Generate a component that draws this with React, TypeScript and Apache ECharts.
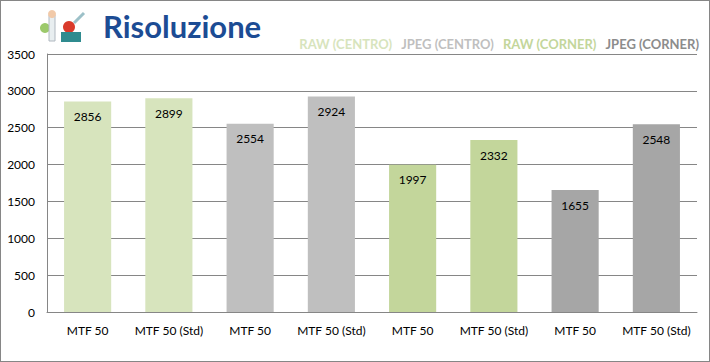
import React, { useEffect, useRef } from "react";
import * as echarts from "echarts";

const categories = ["MTF 50", "MTF 50 (Std)", "MTF 50", "MTF 50 (Std)", "MTF 50", "MTF 50 (Std)", "MTF 50", "MTF 50 (Std)"];
const seriesNames = ["RAW (CENTRO)", "JPEG (CENTRO)", "RAW (CORNER)", "JPEG (CORNER)"];
const seriesColors = ["#d7e4bd", "#bfbfbf", "#c3d69b", "#a6a6a6"];
const legendColors = ["#d7e4bd", "#bfbfbf", "#c3d69b", "#8c8c8c"];
const rawCentro = [2856, 2899, null, null, null, null, null, null];
const jpegCentro = [null, null, 2554, 2924, null, null, null, null];
const rawCorner = [null, null, null, null, 1997, 2332, null, null];
const jpegCorner = [null, null, null, null, null, null, 1655, 2548];
const seriesValues = [rawCentro, jpegCentro, rawCorner, jpegCorner];

const FONT = "Lato, 'Open Sans', sans-serif";

export default function App() {
  const ref = useRef<HTMLDivElement>(null);
  useEffect(() => {
    if (!ref.current) return;
    const chart = echarts.init(ref.current, undefined, { renderer: "svg" });
    chart.setOption({
      animation: false,
      backgroundColor: "#ffffff",
      textStyle: { fontFamily: FONT },
      title: {
        text: "Risoluzione",
        left: 97,
        top: 4,
        textStyle: { color: "#1c4c94", fontSize: 31, fontWeight: "bold", fontFamily: FONT },
      },
      legend: {
        right: 5,
        top: 31,
        icon: "rect",
        itemWidth: 0,
        itemHeight: 0,
        itemGap: 9,
        textStyle: { fontSize: 13, fontWeight: "bold", fontFamily: FONT, padding: [0, 0, 0, -5] },
        data: seriesNames.map((n, i) => ({ name: n, textStyle: { color: legendColors[i] } })),
      },
      grid: { left: 46, right: 12, top: 53, bottom: 49, containLabel: false },
      xAxis: {
        type: "category",
        data: categories,
        axisLine: { lineStyle: { color: "#868686" } },
        axisTick: { show: false },
        axisLabel: { color: "#000", fontSize: 12, margin: 12, interval: 0, fontFamily: FONT },
      },
      yAxis: {
        type: "value",
        min: 0,
        max: 3500,
        interval: 500,
        axisLine: { show: true, lineStyle: { color: "#868686" } },
        axisTick: { show: false },
        splitLine: { lineStyle: { color: "#868686" } },
        axisLabel: { color: "#000", fontSize: 12, margin: 12, fontFamily: FONT, formatter: (v: number) => String(v) },
      },
      series: seriesValues.map((vals, i) => ({
        name: seriesNames[i],
        type: "bar",
        stack: "all",
        data: vals,
        barCategoryGap: "42%",
        itemStyle: { color: seriesColors[i] },
        label: {
          show: true,
          position: "insideTop",
          distance: 9,
          color: "#000",
          fontSize: 12,
          fontFamily: FONT,
        },
      })),
      graphic: [
        { type: "circle", shape: { cx: 44, cy: 27, r: 5 }, style: { fill: "#9cc96b" } },
        { type: "rect", shape: { x: 48, y: 14, width: 6, height: 26 }, style: { fill: "#e8eef0", stroke: "#b0b8c0" } },
        { type: "circle", shape: { cx: 51, cy: 13, r: 4 }, style: { fill: "#f1c9a8" } },
        { type: "circle", shape: { cx: 68, cy: 26, r: 6 }, style: { fill: "#d93a2b" } },
        { type: "rect", shape: { x: 60, y: 31, width: 20, height: 10 }, style: { fill: "#2f8b8f" } },
        { type: "line", shape: { x1: 73, y1: 22, x2: 83, y2: 12 }, style: { stroke: "#9cc0c8", lineWidth: 3 } },
      ],
    });
    return () => chart.dispose();
  }, []);
  return (
    <div
      style={{
        position: "fixed",
        left: 0,
        top: 0,
        width: 710,
        height: 362,
        boxSizing: "border-box",
        border: "1px solid #868686",
        background: "#fff",
      }}
    >
      <div ref={ref} style={{ width: 708, height: 360 }} />
    </div>
  );
}
